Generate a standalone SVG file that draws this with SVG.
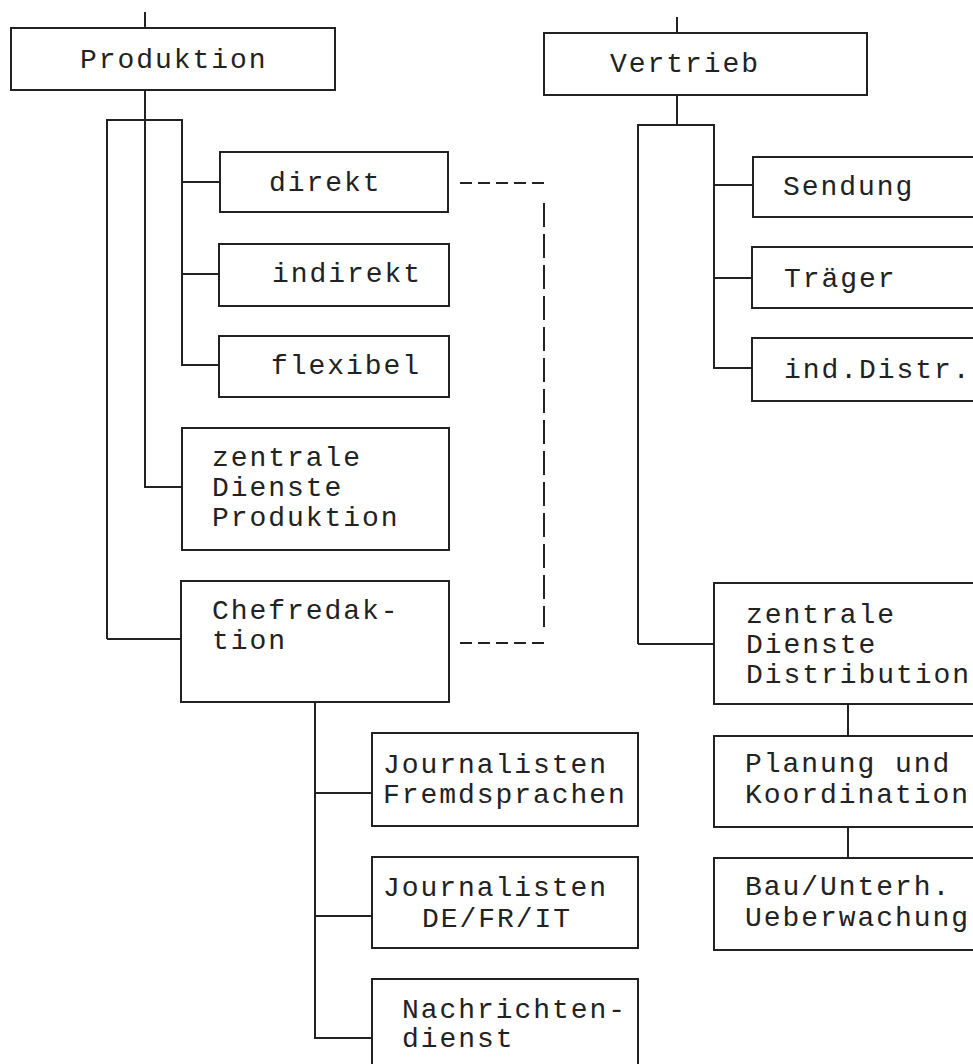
<svg xmlns="http://www.w3.org/2000/svg" width="973" height="1064" viewBox="0 0 973 1064">
<style>
.box{fill:#fff;stroke:#222;stroke-width:2}
.ln{fill:none;stroke:#222;stroke-width:2}
.dash{fill:none;stroke:#222;stroke-width:2;stroke-dasharray:12,6}
.vdash{fill:none;stroke:#222;stroke-width:2;stroke-dasharray:24,7}
text{font-family:"Liberation Mono","Courier New",monospace;font-size:28px;letter-spacing:1.95px;fill:#222}
</style>
<rect width="973" height="1064" fill="#fff"/>
<g id="connectors">
<path class="ln" d="M145,12V28"/>
<path class="ln" d="M145,90V487H182"/>
<path class="ln" d="M107,639V120H182V365H220"/>
<path class="ln" d="M182,182H220M182,274H220"/>
<path class="ln" d="M107,639H181"/>
<path class="ln" d="M315,702V1038H372M315,793H372M315,916H372"/>
<path class="ln" d="M677,17V33"/>
<path class="ln" d="M677,95V125"/>
<path class="ln" d="M638,644V125H714V368H753M714,185H753M714,278H753"/>
<path class="ln" d="M638,644H714"/>
<path class="ln" d="M848,704V736M848,827V858"/>
<path class="dash" d="M460,183H550"/>
<path class="dash" d="M460,643H550"/>
<path class="vdash" d="M544,203V627"/>
</g>
<g id="n-produktion"><rect class="box" x="11" y="28" width="324" height="62"/><text x="80" y="68">Produktion</text></g>
<g id="n-direkt"><rect class="box" x="220" y="152" width="228" height="60"/><text x="269" y="191">direkt</text></g>
<g id="n-indirekt"><rect class="box" x="219" y="244" width="230" height="62"/><text x="272" y="282">indirekt</text></g>
<g id="n-flexibel"><rect class="box" x="219" y="336" width="230" height="61"/><text x="271" y="374">flexibel</text></g>
<g id="n-zdp"><rect class="box" x="182" y="428" width="267" height="122"/><text x="212" y="466">zentrale</text><text x="212" y="496">Dienste</text><text x="212" y="526">Produktion</text></g>
<g id="n-chef"><rect class="box" x="181" y="581" width="268" height="121"/><text x="212" y="619">Chefredak-</text><text x="212" y="649">tion</text></g>
<g id="n-jf"><rect class="box" x="372" y="733" width="266" height="93"/><text x="383" y="773">Journalisten</text><text x="383" y="803">Fremdsprachen</text></g>
<g id="n-jd"><rect class="box" x="372" y="857" width="266" height="91"/><text x="383" y="896">Journalisten</text><text x="422" y="927">DE/FR/IT</text></g>
<g id="n-nd"><rect class="box" x="372" y="979" width="266" height="100"/><text x="402" y="1018">Nachrichten-</text><text x="402" y="1047">dienst</text></g>
<g id="n-vertrieb"><rect class="box" x="544" y="33" width="323" height="62"/><text x="610" y="72">Vertrieb</text></g>
<g id="n-sendung"><rect class="box" x="753" y="157" width="240" height="60"/><text x="783" y="195">Sendung</text></g>
<g id="n-traeger"><rect class="box" x="752" y="247" width="240" height="61"/><text x="784" y="287">Träger</text></g>
<g id="n-ind"><rect class="box" x="752" y="338" width="240" height="63"/><text x="784" y="378">ind.Distr.</text></g>
<g id="n-zdd"><rect class="box" x="714" y="583" width="280" height="121"/><text x="746" y="623">zentrale</text><text x="746" y="653">Dienste</text><text x="746" y="683">Distribution</text></g>
<g id="n-planung"><rect class="box" x="714" y="736" width="280" height="91"/><text x="745" y="772">Planung und</text><text x="745" y="803">Koordination</text></g>
<g id="n-bau"><rect class="box" x="714" y="858" width="280" height="92"/><text x="745" y="895">Bau/Unterh.</text><text x="745" y="926">Ueberwachung</text></g>
</svg>
